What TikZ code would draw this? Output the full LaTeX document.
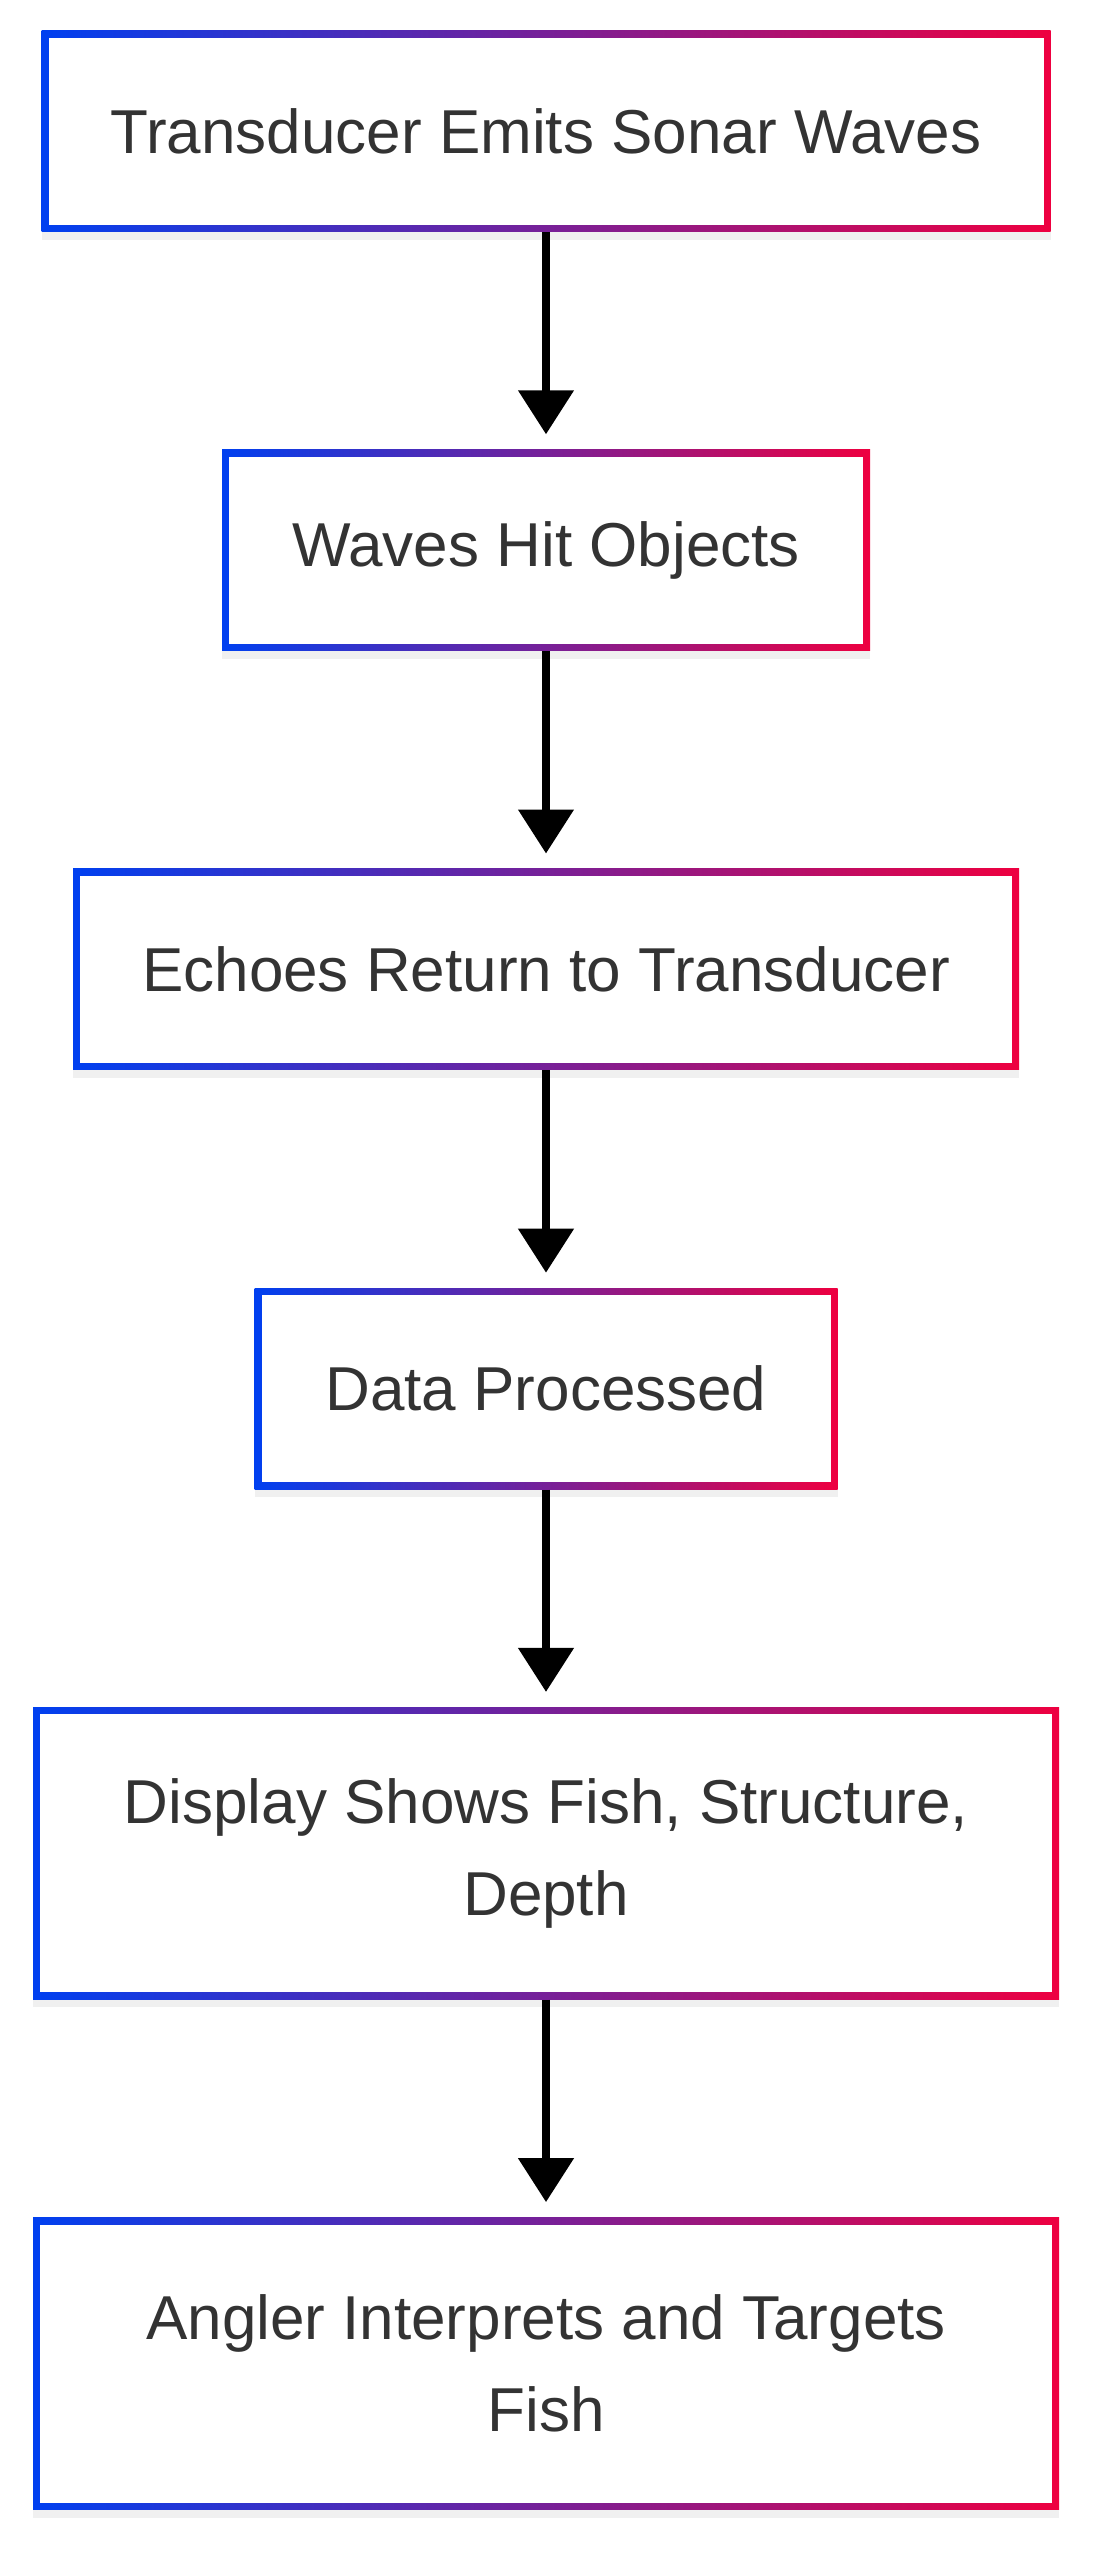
\documentclass[tikz,border=0pt]{standalone}
\usepackage{fontspec}
\setmainfont{Liberation Sans}
\usetikzlibrary{arrows.meta,positioning,shadows}
\definecolor{sonarblue}{RGB}{0,64,240}
\definecolor{sonarred}{RGB}{238,0,64}
\definecolor{labelgrey}{RGB}{51,51,51}
\tikzset{
  stepbox/.style={rectangle, left color=sonarblue, right color=sonarred,
    minimum height=100.5pt, inner xsep=0pt, align=center, text=labelgrey,
    font=\fontsize{31}{46}\selectfont,
    drop shadow={opacity=0.12, shadow xshift=0pt, shadow yshift=-4pt},
    path picture={\fill[white] ([shift={(3.5pt,3.5pt)}]path picture bounding box.south west)
      rectangle ([shift={(-3.5pt,-3.5pt)}]path picture bounding box.north east);}},
  flow/.style={-{Triangle[width=27pt,length=22pt]}, line width=4pt, shorten >=7.5pt}
}
\begin{document}
\begin{tikzpicture}[node distance=108.7pt]
  \useasboundingbox (0,0) rectangle (549.5pt,-1280pt);
  \node[stepbox, minimum width=504.5pt] (emit) at (273pt,-65.5pt) {Transducer Emits Sonar Waves};
  \node[stepbox, minimum width=324pt, below=of emit] (hit) {Waves Hit Objects};
  \node[stepbox, minimum width=473pt, below=of hit] (echo) {Echoes Return to Transducer};
  \node[stepbox, minimum width=291.5pt, below=of echo] (proc) {Data Processed};
  \node[stepbox, minimum width=513pt, minimum height=146pt, below=of proc] (show) {Display Shows Fish, Structure,\\Depth};
  \node[stepbox, minimum width=513pt, minimum height=146pt, below=of show] (angler) {Angler Interprets and Targets\\Fish};
  % connectors
  \draw[flow] (emit) -- (hit);
  \draw[flow] (hit) -- (echo);
  \draw[flow] (echo) -- (proc);
  \draw[flow] (proc) -- (show);
  \draw[flow] (show) -- (angler);
\end{tikzpicture}
\end{document}
